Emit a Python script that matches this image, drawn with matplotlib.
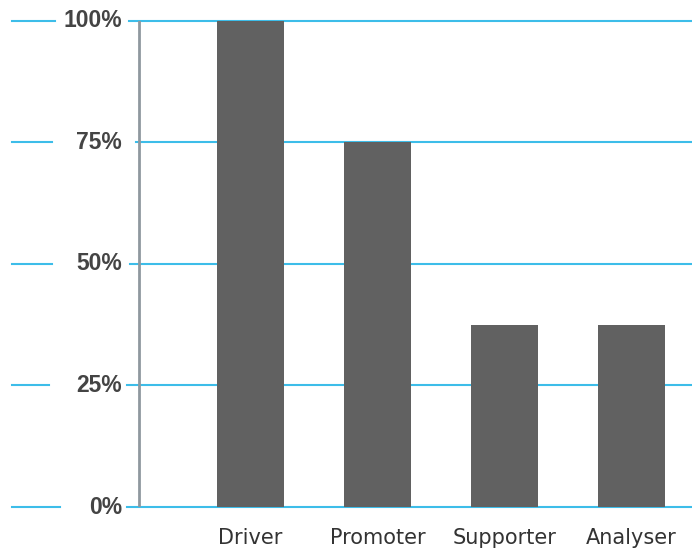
import matplotlib
matplotlib.use("Agg")
import matplotlib.pyplot as plt
import matplotlib.transforms as mtransforms
from matplotlib import font_manager as fm

# data
categories = ["Driver", "Promoter", "Supporter", "Analyser"]
values = [100, 75, 37.5, 37.5]
yticks = [0, 25, 50, 75, 100]
ytick_labels = ["0%", "25%", "50%", "75%", "100%"]

# gap cut into each gridline around its label (px, left end / right start)
gap_left = [60, 49, 52, 52, 55]
gap_right = [127, 127, 130, 136, 129]

# want the regular-width Liberation Sans Bold, not the Narrow one
bold_font = None
for f in fm.findSystemFonts():
    if f.endswith("LiberationSans-Bold.ttf"):
        bold_font = fm.FontProperties(fname=f, size=16.5)
        break
if bold_font is None:
    bold_font = fm.FontProperties(family="DejaVu Sans", weight="bold", size=15)

W, H = 692, 549
fig = plt.figure(figsize=(W / 100, H / 100), dpi=100)

# axes placed in pixels: x from 12 to 692, y=0 at 507px, y=100 at 20.7px
AX_L, AX_W = 12, 680
ax = fig.add_axes([AX_L / W, (H - 507) / H, AX_W / W, 486.3 / H])

step = 127.0  # px between categories
xmin = -(250.5 - AX_L) / step
ax.set_xlim(xmin, xmin + AX_W / step)
ax.set_ylim(0, 100)

grid_col = "#3dbde9"
for t, gl, gr in zip(yticks, gap_left, gap_right):
    ax.axhline(t, xmin=0, xmax=(gl - AX_L) / AX_W, color=grid_col, lw=1.5,
               zorder=1, clip_on=False)
    ax.axhline(t, xmin=(gr - AX_L) / AX_W, xmax=1, color=grid_col, lw=1.5,
               zorder=1, clip_on=False)

# vertical axis line at 139px
ax.axvline(xmin + (139 - AX_L) / step, color="#8f989f", lw=2, zorder=2)

ax.bar(range(len(categories)), values, width=67 / step, color="#616161",
       zorder=3, clip_on=False)

trans = mtransforms.blended_transform_factory(fig.transFigure, ax.transData)
for t, lab in zip(yticks, ytick_labels):
    ax.text(122 / W, t, lab, transform=trans, ha="right", va="center",
            fontproperties=bold_font, color="#444444", zorder=5)

ax.set_yticks([])
ax.set_xticks(range(len(categories)))
ax.set_xticklabels(categories, fontsize=15, color="#333333", family="DejaVu Sans")
ax.tick_params(axis="x", length=0, pad=15)
for s in ax.spines.values():
    s.set_visible(False)

fig.savefig("out.png", dpi=100)
